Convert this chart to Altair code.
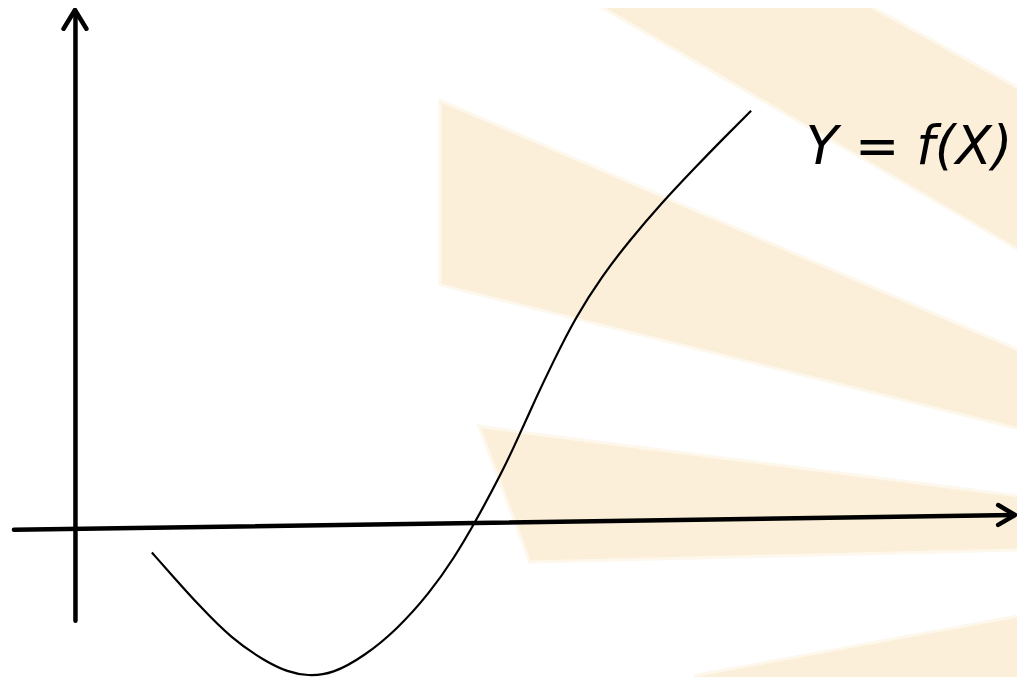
import altair as alt
import pandas as pd

# ---- data (diagram coordinates, origin top-left, y grows downward) ----
curve_x = [153, 175, 200, 233, 267, 290, 310, 335, 367, 400, 433, 458, 478,
           507, 523, 540, 557, 580, 607, 633, 667, 700, 730, 757]
curve_y = [559, 584, 612, 646, 669, 680, 684, 682, 664, 637, 600, 564, 530,
           476, 441, 403, 367, 321, 279, 245, 205, 170, 139, 112]

x_axis_x = [14, 1022]
x_axis_y = [536, 521]
y_axis_x = [76, 76]
y_axis_y = [628, 12]

x_head_x = [1006, 1023, 1006]
x_head_y = [511, 521, 531]
y_head_x = [64, 75.5, 87]
y_head_y = [29, 10, 29]

label_text = ["Y = f(X)"]
label_x = [812]
label_y = [166]

# background watermark bands: x, top edge, bottom edge
band_names = ["P1", "P1", "P1", "A", "A", "C", "C", "C", "D", "D"]
band_x = [597, 863, 1025, 445, 1025, 485, 535, 1025, 700, 1025]
band_top = [0, 0, 90, 104, 355, 433, 440, 503, 685, 625]
band_bot = [0, 155, 250, 287, 432, 433, 567, 555, 685, 685]

PEACH = "#FBEFDA"

# the diagram frame (8..1025 x 8..685) fills the whole chart area
X = alt.Scale(domain=[8, 1025], nice=False, zero=False)
Y = alt.Scale(domain=[8, 685], nice=False, zero=False, reverse=True)

bands = pd.DataFrame({"band": band_names, "x": band_x, "top": band_top, "bot": band_bot})
curve = pd.DataFrame({"x": curve_x, "y": curve_y, "i": range(len(curve_x))})

seg_rows = []
for name, xs, ys in [("xaxis", x_axis_x, x_axis_y), ("yaxis", y_axis_x, y_axis_y),
                     ("xhead", x_head_x, x_head_y), ("yhead", y_head_x, y_head_y)]:
    for i, (a, b) in enumerate(zip(xs, ys)):
        seg_rows.append({"seg": name, "x": a, "y": b, "i": i})
segs = pd.DataFrame(seg_rows)
labels = pd.DataFrame({"t": label_text, "x": label_x, "y": label_y})

band_layer = alt.Chart(bands).mark_area(
    color=PEACH, opacity=1, stroke=PEACH, strokeOpacity=0.5, strokeWidth=6,
    clip=True
).encode(
    x=alt.X("x:Q", scale=X, axis=None),
    y=alt.Y("top:Q", scale=Y, axis=None),
    y2="bot:Q",
    detail="band:N",
)

axis_layer = alt.Chart(segs).mark_line(
    color="black", strokeWidth=4.5, strokeCap="round", strokeJoin="round"
).encode(
    x=alt.X("x:Q", scale=X, axis=None),
    y=alt.Y("y:Q", scale=Y, axis=None),
    detail="seg:N",
    order="i:Q",
)

curve_layer = alt.Chart(curve).mark_line(
    color="black", strokeWidth=2.2, interpolate="basis"
).encode(
    x=alt.X("x:Q", scale=X, axis=None),
    y=alt.Y("y:Q", scale=Y, axis=None),
    order="i:Q",
)

text_layer = alt.Chart(labels).mark_text(
    align="left", baseline="alphabetic", font="DejaVu Sans",
    fontStyle="italic", fontSize=53, color="black"
).encode(
    x=alt.X("x:Q", scale=X, axis=None),
    y=alt.Y("y:Q", scale=Y, axis=None),
    text="t:N",
)

chart = alt.layer(band_layer, axis_layer, curve_layer, text_layer).properties(
    width=1009, height=669,
    autosize=alt.AutoSizeParams(type="none"),
    padding=0,
    background="white",
).configure_view(stroke=None)

chart.save("out.html", embed_options={"renderer": "svg", "actions": False})
